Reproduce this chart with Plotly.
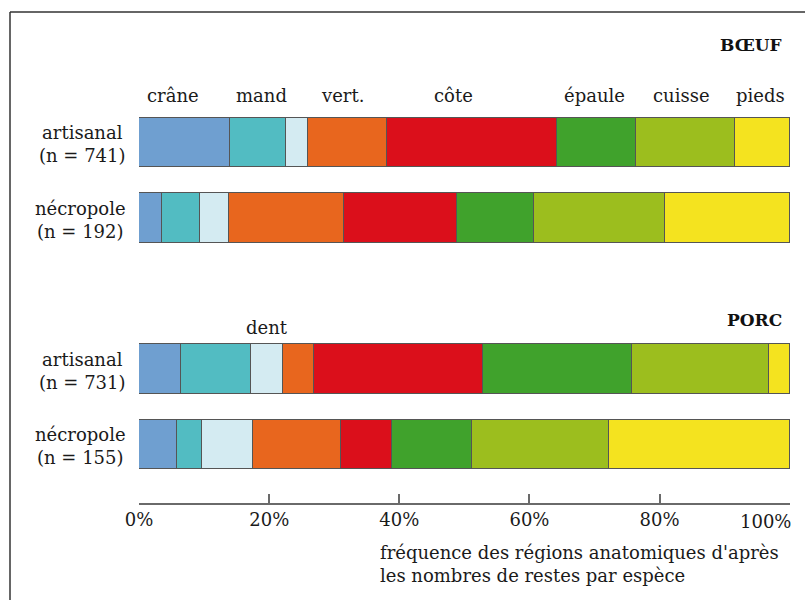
import plotly.graph_objects as go

# ---- data ----
regions = ["crâne", "mand", "dent", "vert.", "côte", "épaule", "cuisse", "pieds"]
row_labels = ["artisanal<br>(n = 741)", "nécropole<br>(n = 192)",
              "artisanal<br>(n = 731)", "nécropole<br>(n = 155)"]
boeuf_artisanal = [14.0, 8.6, 3.3, 12.2, 26.2, 12.1, 15.2, 8.4]
boeuf_necropole = [3.5, 5.9, 4.4, 17.7, 17.3, 11.9, 20.1, 19.2]
porc_artisanal = [6.5, 10.7, 4.9, 4.8, 26.0, 22.9, 21.0, 3.2]
porc_necropole = [5.8, 3.9, 7.8, 13.5, 7.8, 12.3, 21.2, 27.7]
tick_vals = [0, 20, 40, 60, 80, 100]
tick_text = ["0%", "20%", "40%", "60%", "80%", "100%"]
species = ["BŒUF", "PORC"]

series = [boeuf_artisanal, boeuf_necropole, porc_artisanal, porc_necropole]

# ---- style / layout ----
colors = ["#6f9fd0", "#52bcc2", "#d4ebf2", "#e8661e", "#db0f1b",
          "#40a22c", "#9cbe1e", "#f4e31f"]
row_pos = [0, 1, 3, 4]
FONT = "DejaVu Serif"
FS = 18
TXT = "#1a1a1a"
W, H = 805, 600
L, R = 139, 790          # plot area in px
ROW0_PX, UNIT_PX = 142.5, 75.5
y_top = -ROW0_PX / UNIT_PX
y_bot = (H - ROW0_PX) / UNIT_PX

def px_x(p):
    return (p - L) / (R - L)

def px_y(p):
    return 1 - p / H

fig = go.Figure()
for i, reg in enumerate(regions):
    fig.add_trace(go.Bar(
        x=[s[i] for s in series],
        y=row_pos,
        orientation="h",
        name=reg,
        width=0.65,
        marker=dict(color=colors[i], line=dict(color="#555555", width=1)),
        showlegend=False,
        hoverinfo="x+name",
    ))

annotations = []
# row labels
for lab, pos in zip(row_labels, row_pos):
    annotations.append(dict(x=px_x(128), xref="paper", y=pos + 0.02, yref="y",
                            text=lab, showarrow=False, xanchor="right",
                            yanchor="middle", align="center",
                            font=dict(family=FONT, size=FS, color=TXT)))
# region labels over the first bar
head_px = {"crâne": 173, "mand": 261, "vert.": 342, "côte": 453,
           "épaule": 594, "cuisse": 681, "pieds": 760}
for name, xp in head_px.items():
    annotations.append(dict(x=px_x(xp), xref="paper", y=px_y(95), yref="paper",
                            text=name, showarrow=False, xanchor="center",
                            yanchor="middle",
                            font=dict(family=FONT, size=FS, color=TXT)))
annotations.append(dict(x=px_x(267), xref="paper", y=px_y(327), yref="paper",
                        text="dent", showarrow=False, xanchor="center",
                        yanchor="middle",
                        font=dict(family=FONT, size=FS, color=TXT)))
# species titles
for sp, yp in zip(species, [45, 320]):
    annotations.append(dict(x=px_x(784), xref="paper", y=px_y(yp), yref="paper",
                            text="<b>" + sp + "</b>", showarrow=False,
                            xanchor="right", yanchor="middle",
                            font=dict(family=FONT, size=17, color="#111")))
# last tick label (kept inside the page, right-aligned on its tick)
annotations.append(dict(x=tick_vals[-1], xref="x", y=px_y(521), yref="paper",
                        text=tick_text[-1], showarrow=False, xanchor="right",
                        yanchor="middle", xshift=3,
                        font=dict(family=FONT, size=FS, color=TXT)))
# axis title
annotations.append(dict(x=px_x(378), xref="paper", y=px_y(540), yref="paper",
                        text="fréquence des régions anatomiques d'après<br>"
                             "les nombres de restes par espèce",
                        showarrow=False, xanchor="left", yanchor="top",
                        align="left",
                        font=dict(family=FONT, size=FS, color=TXT)))

fig.update_layout(
    width=W, height=H,
    margin=dict(l=L, r=W - R, t=0, b=0, autoexpand=False),
    barmode="stack",
    bargap=0,
    plot_bgcolor="white",
    paper_bgcolor="white",
    annotations=annotations,
    xaxis=dict(range=[-0.02, 100.05], tickvals=tick_vals,
               ticktext=tick_text[:-1] + [""],
               ticklabeloverflow="allow",
               showgrid=False, zeroline=False, showline=True,
               linecolor="#6a6a6a", linewidth=1.5,
               ticks="inside", ticklen=9, tickwidth=1.5, tickcolor="#6a6a6a",
               anchor="free", position=px_y(504),
               tickfont=dict(family=FONT, size=FS, color=TXT),
               fixedrange=True),
    yaxis=dict(range=[y_bot, y_top], visible=False, fixedrange=True),
    shapes=[
        dict(type="line", xref="paper", yref="paper",
             x0=px_x(10), x1=px_x(W + 5), y0=px_y(12), y1=px_y(12),
             line=dict(color="#333", width=1.5)),
        dict(type="line", xref="paper", yref="paper",
             x0=px_x(10), x1=px_x(10), y0=px_y(12), y1=px_y(H + 5),
             line=dict(color="#333", width=1.5)),
    ],
)

fig.write_html("out.html", config={"displayModeBar": False},
               post_script="document.body.style.margin='0';"
                           "document.body.style.overflow='hidden';")
